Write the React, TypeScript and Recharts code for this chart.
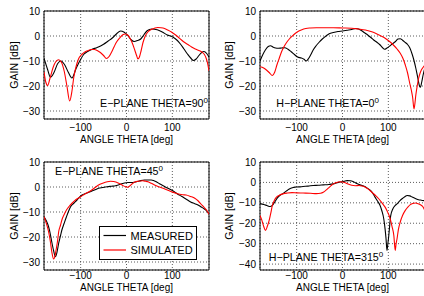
import React from 'react';
import { LineChart, Line, XAxis, YAxis, CartesianGrid, ReferenceArea, Legend } from 'recharts';

const FONT = '"Liberation Sans", Arial, Helvetica, sans-serif';

const xTicks = [-100, 0, 100];
const yTicksA = [-30, -20, -10, 0, 10];
const yTicksB = [-40, -30, -20, -10, 0, 10];

// E-PLANE THETA=90
const e90MeasAngle = [-180, -172, -166, -158, -150, -143, -135, -127, -119, -110, -100, -93, -86, -75, -64, -50, -40, -31, -22, -13, -5, 3, 10, 17, 24, 31, 38, 45, 55, 67, 78, 89, 100, 111, 118, 125, 133, 140, 146, 152, 158, 164, 169, 175, 180];
const e90MeasGain = [-8.9, -13.5, -16.5, -14.5, -11, -10, -11.5, -14.5, -16.8, -13, -9.3, -7.3, -6.3, -5.3, -4.6, -3.3, -2, -0.8, 0.8, 2, 1.5, 0.2, -1.5, -2.2, -1.8, -1.2, 0.5, 2.1, 2.8, 2.5, 1.6, 0.4, -0.3, -1.8, -3.3, -5.1, -7.2, -8.8, -9.8, -9.2, -7.8, -6.6, -6.2, -7, -8.5];
const e90SimAngle = [-180, -176, -172, -167, -160, -154, -148, -142, -136, -130, -124, -119, -115, -109, -104, -97, -90, -83, -77, -70, -64, -57, -50, -44, -38, -33, -27, -22, -15, -8, -3, 3, 8, 13, 18, 22, 25, 28, 32, 36, 41, 47, 54, 61, 68, 75, 83, 90, 98, 105, 112, 120, 127, 134, 142, 150, 158, 165, 170, 174, 177, 180];
const e90SimGain = [-14.3, -18.5, -19.8, -17, -12.5, -10.2, -9.5, -10.5, -14, -20, -26, -22, -16.5, -11.5, -8.9, -7.3, -6.3, -5.8, -5.4, -5.4, -5.8, -6.6, -7.8, -9, -8.2, -6.6, -4.3, -2.5, -0.8, 0.5, 0.8, 0.3, -1, -3, -5.6, -7.8, -9.2, -8.5, -5.8, -2.6, 0, 1.7, 2.6, 3.1, 3.4, 3.3, 3, 2.4, 1.6, 0.7, -0.3, -1.6, -2.6, -3.4, -4.4, -5.2, -5.8, -6.5, -7.4, -9, -11, -14];

// H-PLANE THETA=0
const h0MeasAngle = [-180, -174, -168, -162, -157, -151, -146, -140, -133, -126, -119, -112, -105, -98, -90, -84, -79, -74, -69, -64, -58, -51, -44, -36, -29, -20, -10, 0, 10, 20, 29, 35, 41, 48, 55, 62, 68, 75, 81, 87, 92, 97, 103, 109, 115, 121, 126, 131, 137, 142, 147, 152, 156, 160, 164, 168, 170, 173, 176, 180];
const h0MeasGain = [-10, -7.5, -5.5, -4.2, -3.9, -4.5, -4.8, -4.9, -4.8, -4.7, -5.3, -6.3, -7.4, -8.4, -8.8, -9.3, -10, -9, -7.4, -5.6, -4, -2.5, -1.2, 0, 0.9, 1.4, 1.8, 2, 2.3, 2.6, 3, 2.8, 2.2, 1.3, 0.4, -0.6, -1.6, -2.5, -3.4, -4.6, -5.3, -4.8, -4, -3.1, -2.3, -1.2, -1.1, -1.7, -2.6, -3.4, -4.8, -7.3, -9.8, -12.9, -16.5, -20, -20.5, -18.3, -15.5, -12.5];
const h0SimAngle = [-180, -172, -166, -160, -153, -148, -143, -138, -133, -128, -122, -116, -110, -104, -97, -90, -80, -70, -57, -40, -20, 0, 20, 35, 50, 62, 72, 83, 93, 102, 111, 119, 126, 132, 137, 142, 146, 150, 153, 156, 158, 160, 163, 166, 169, 172, 176, 180];
const h0SimGain = [-12.3, -12.8, -13.6, -14.6, -15.8, -14.5, -11.5, -8.9, -6.3, -4.4, -2.6, -1.2, -0.1, 0.9, 1.8, 2.4, 3, 3.2, 3.3, 3.3, 3.3, 3.2, 3.1, 2.8, 2.4, 1.8, 1.1, 0.1, -0.9, -2.1, -3.6, -5.2, -6.9, -9, -11.6, -14.8, -18.3, -21.5, -24.5, -29.2, -27, -23.6, -20, -17, -15, -13.6, -12.5, -11.6];

// E-PLANE THETA=45
const e45MeasAngle = [-180, -175, -170, -166, -163, -159, -155, -151, -148, -144, -141, -136, -131, -126, -122, -115, -108, -102, -97, -88, -79, -70, -61, -52, -42, -33, -24, -15, -6, 3, 10, 17, 28, 39, 47, 54, 60, 65, 72, 80, 89, 98, 105, 112, 120, 127, 134, 141, 148, 156, 163, 170, 176, 180];
const e45MeasGain = [-11.9, -13.5, -15.9, -19, -22, -25.5, -27.9, -25.5, -22.5, -19.5, -17.2, -14.5, -11.9, -9.5, -7.9, -6.5, -5.2, -4, -3.2, -2.5, -1.9, -1.2, -0.5, -0.2, 0.1, 0.3, 0.5, 1, 1.5, 1.8, 1.8, 1.9, 2.4, 2.8, 2.8, 2.8, 2.5, 2.1, 1.3, 0.5, -0.4, -1.2, -2, -2.9, -3.7, -4.5, -5.3, -6.1, -6.6, -7.2, -8, -8.8, -9.8, -10.9];
const e45SimAngle = [-180, -175, -170, -166, -163, -159, -156, -153, -150, -148, -144, -141, -136, -131, -125, -119, -110, -100, -90, -79, -70, -61, -52, -42, -35, -28, -17, -9, -2, 3, 7, 12, 17, 25, 35, 42, 47, 54, 61, 70, 80, 89, 98, 107, 116, 123, 130, 140, 149, 156, 163, 170, 176, 180];
const e45SimGain = [-11.9, -14.5, -17.9, -22, -25.9, -28.8, -27.5, -24.5, -21, -17.9, -15.3, -13.2, -11, -9.2, -7.7, -6.5, -5, -3.9, -2.7, -1.6, -0.4, 0.8, 1.5, 2.1, 2.3, 2.2, 1.5, 0.7, 0.1, -0.1, 0.4, 1.2, 1.9, 2.3, 2.5, 2.3, 2.1, 1.5, 0.8, 0.1, -0.5, -1.2, -1.9, -2.4, -2.9, -3.1, -3.2, -3.8, -4.5, -5.5, -6.9, -8.3, -9.6, -10.9];

// H-PLANE THETA=315
const h315MeasAngle = [-180, -172, -165, -158, -153, -148, -142, -137, -131, -126, -120, -115, -109, -104, -95, -86, -75, -64, -53, -42, -30, -20, -12, -5, 3, 10, 17, 24, 31, 38, 46, 54, 61, 66, 71, 76, 82, 86, 90, 93, 95, 97, 99, 101, 103, 105, 110, 115, 119, 125, 130, 136, 141, 147, 152, 160, 166, 172, 180];
const h315MeasGain = [-10.4, -10.8, -11.3, -11.8, -11.2, -9.6, -7.6, -6.4, -5.6, -4.8, -3.8, -3.1, -2.6, -2.3, -2.2, -2, -1.8, -1.5, -1.4, -1.2, -1, -0.7, -0.2, 0.2, 0.5, 0.9, 0.8, 0.3, -0.5, -1.2, -1.8, -2.8, -3.9, -5.3, -7.2, -9, -11.3, -14, -17.8, -23, -27.6, -33.3, -30, -26, -21, -16.5, -12.9, -11.3, -10.5, -9, -8, -7, -6.4, -6.6, -7.2, -8, -8.5, -8.7, -9];
const h315SimAngle = [-180, -176, -172, -168, -164, -160, -156, -153, -148, -144, -137, -130, -120, -110, -100, -86, -70, -57, -48, -42, -36, -31, -25, -20, -13, -6, 0, 6, 12, 20, 28, 36, 43, 50, 57, 64, 72, 79, 86, 93, 99, 104, 108, 112, 115, 117, 119, 122, 126, 131, 137, 143, 148, 153, 159, 165, 170, 175, 180];
const h315SimGain = [-16.2, -18.5, -21.5, -23.5, -21.5, -18.6, -14.5, -11.3, -8.5, -7.2, -6.2, -5.6, -5.2, -5, -5.1, -5.2, -5.3, -5.5, -5.3, -4.8, -3.8, -2.8, -1.6, -0.7, 0, 0.3, 0.2, -0.2, -0.8, -1.4, -1.6, -1.5, -1.8, -2.4, -3.4, -4.8, -6.4, -8, -10, -12.1, -14.8, -17.8, -21.5, -26, -33.3, -30, -27.6, -23, -19.4, -16.2, -13.7, -12, -10.9, -10.3, -10.1, -10.4, -10.9, -11.8, -14];

const seriesNames = ['MEASURED', 'SIMULATED'];
const seriesColors = ['#000000', '#ff0000'];

type Pt = { angle: number; gain: number };
const zip = (a: number[], g: number[]): Pt[] => a.map((x, i) => ({ angle: x, gain: g[i] }));

const fmt = (v: number) => (v < 0 ? '\u2212' + Math.abs(v) : String(v));

const tickStyle = { fontSize: 10, fill: '#000', fontFamily: FONT };

function LegendBox() {
  return (
    <svg width={98} height={34} style={{ display: 'block' }}>
      <rect x={0.5} y={0.5} width={97} height={33} fill="#fff" stroke="#000" strokeWidth={1} />
      {seriesNames.map((n, i) => (
        <g key={n}>
          <line x1={4.5} x2={27} y1={9.5 + i * 14.5} y2={9.5 + i * 14.5} stroke={seriesColors[i]} strokeWidth={1.2} />
          <text x={31.5} y={9.5 + i * 14.5 + 4} fontSize={11} fontFamily={FONT} fill="#000">{n}</text>
        </g>
      ))}
    </svg>
  );
}

type PanelProps = {
  left: number; top: number; width: number; mLeft: number; mRight: number; mTop: number;
  yMin: number; yTicks: number[]; xGap: number; meas: Pt[]; sim: Pt[]; legend?: boolean;
};

const Y_AXIS_W = 30;
const X_AXIS_H = 12;

function Panel(p: PanelProps) {
  const h = 148;
  const plotH = 108;
  return (
    <div style={{ position: 'absolute', left: p.left, top: p.top }}>
      <LineChart width={p.width} height={h}
        margin={{ top: p.mTop, left: p.mLeft - Y_AXIS_W, right: p.mRight, bottom: h - p.mTop - plotH - X_AXIS_H }}>
        <CartesianGrid stroke="#333" strokeDasharray="1 2" strokeWidth={0.8} />
        <XAxis type="number" dataKey="angle" domain={[-180, 180]} ticks={xTicks} allowDataOverflow height={X_AXIS_H}
          tickSize={0} tickMargin={p.xGap} axisLine={false} tickLine={false} tick={tickStyle} tickFormatter={fmt} interval={0} />
        <YAxis type="number" domain={[p.yMin, 10]} ticks={p.yTicks} allowDataOverflow width={Y_AXIS_W}
          tickSize={0} tickMargin={4} axisLine={false} tickLine={false} tick={tickStyle} tickFormatter={fmt} interval={0} />
        <Line data={p.meas} dataKey="gain" name={seriesNames[0]} stroke={seriesColors[0]} strokeWidth={1.1} dot={false} type="monotone" isAnimationActive={false} />
        <Line data={p.sim} dataKey="gain" name={seriesNames[1]} stroke={seriesColors[1]} strokeWidth={1.1} dot={false} type="monotone" isAnimationActive={false} />
        <ReferenceArea x1={-180} x2={180} y1={p.yMin} y2={10} fill="none" stroke="#000" strokeWidth={1} ifOverflow="visible" />
        {p.legend ? (
          <Legend layout="vertical" align="center" verticalAlign="middle" content={() => <LegendBox />}
            wrapperStyle={{ left: 99, top: 78, width: 98, height: 34 }} />
        ) : null}
      </LineChart>
    </div>
  );
}

const txt = { fontFamily: FONT, fill: '#000' } as const;

function Title({ x, y, main, sup }: { x: number; y: number; main: string; sup: string }) {
  return (
    <text x={x} y={y} fontSize={10.7} {...txt}>
      {main}
      <tspan fontSize={8} dy={-4.5}>{sup}</tspan>
    </text>
  );
}

export default function App() {
  return (
    <div style={{ position: 'absolute', left: 0, top: 0, width: 424, height: 296, overflow: 'hidden', background: '#fff' }}>
      <Panel left={0} top={0} width={212} mLeft={44} mRight={3} mTop={11} yMin={-33.2} yTicks={yTicksA} xGap={5}
        meas={zip(e90MeasAngle, e90MeasGain)} sim={zip(e90SimAngle, e90SimGain)} />
      <Panel left={212} top={0} width={214} mLeft={48} mRight={1} mTop={11} yMin={-33.2} yTicks={yTicksA} xGap={5}
        meas={zip(h0MeasAngle, h0MeasGain)} sim={zip(h0SimAngle, h0SimGain)} />
      <Panel left={0} top={148} width={212} mLeft={44} mRight={3} mTop={14} yMin={-33.2} yTicks={yTicksA} xGap={1.5}
        meas={zip(e45MeasAngle, e45MeasGain)} sim={zip(e45SimAngle, e45SimGain)} legend />
      <Panel left={212} top={148} width={214} mLeft={48} mRight={1} mTop={14} yMin={-42.9} yTicks={yTicksB} xGap={1.5}
        meas={zip(h315MeasAngle, h315MeasGain)} sim={zip(h315SimAngle, h315SimGain)} />
      <svg width={424} height={296} style={{ position: 'absolute', left: 0, top: 0, pointerEvents: 'none' }}>
        <Title x={100} y={107.3} main={'E\u2212PLANE THETA=90'} sup="0" />
        <Title x={276.3} y={107.3} main={'H\u2212PLANE THETA=0'} sup="0" />
        <Title x={55} y={175.3} main={'E\u2212PLANE THETA=45'} sup="0" />
        <Title x={268.7} y={261.3} main={'H\u2212PLANE THETA=315'} sup="0" />
        {[[17.5, 65], [233, 65], [17.5, 216], [233, 216]].map(([x, y], i) => (
          <text key={'g' + i} x={x} y={y} fontSize={10.5} textAnchor="middle" transform={`rotate(-90 ${x} ${y})`} {...txt}>GAIN [dB]</text>
        ))}
        {[[126.5, 142.5], [342.5, 142.5], [126.5, 291], [342.5, 291]].map(([x, y], i) => (
          <text key={'a' + i} x={x} y={y} fontSize={10} textAnchor="middle" {...txt}>ANGLE THETA [deg]</text>
        ))}
      </svg>
    </div>
  );
}
